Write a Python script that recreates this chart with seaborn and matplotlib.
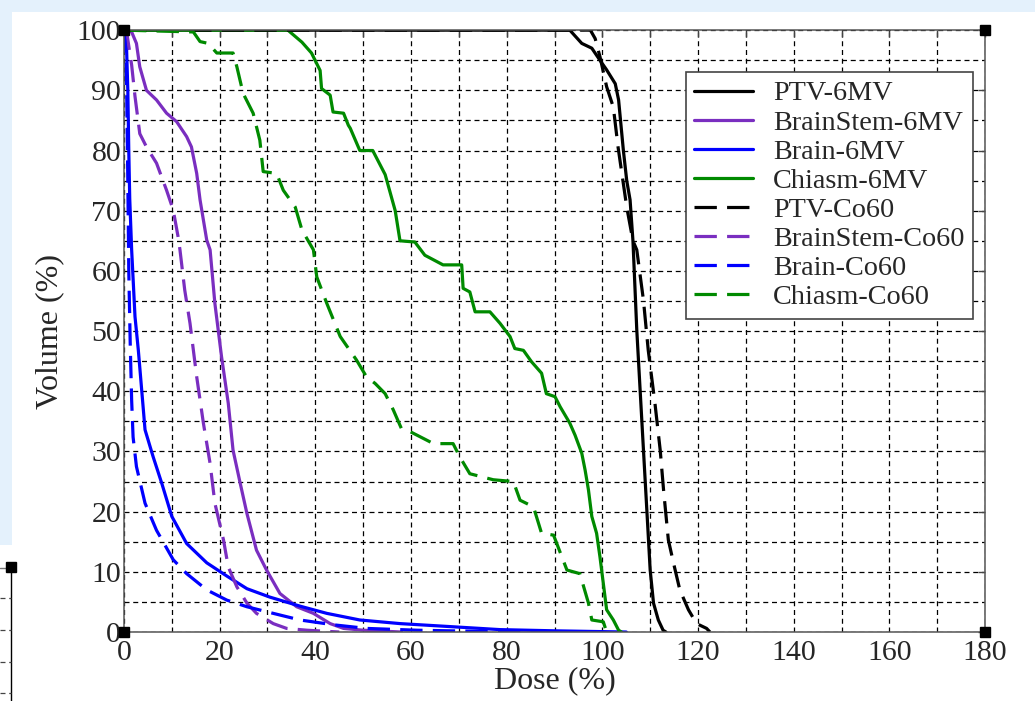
import matplotlib
matplotlib.use("Agg")
import matplotlib.pyplot as plt
from matplotlib.patches import Rectangle
from matplotlib.lines import Line2D
import seaborn as sns

# DVH curves (dose %, volume %)
ptv_6mv_dose = [0, 93.2, 95.7, 97.8, 99.5, 100.9, 102.7, 103.4, 104.4, 105.1, 105.8, 106.4,
                107.2, 107.9, 108.6, 109.3, 110.0, 110.7, 111.7, 112.7, 113.3]
ptv_6mv_vol = [100, 100, 97.8, 97, 95, 93.4, 91.1, 88.4, 80, 75, 71.8, 65,
               50.2, 40.2, 30.2, 20.3, 10.3, 4.8, 2, 0.3, 0]

brainstem_6mv_dose = [0, 1.0, 1.6, 2.6, 3.3, 4.7, 6.8, 8.9, 11.0, 13.1, 14.1, 15.2, 15.9, 17.3,
                      18.0, 19.0, 20.4, 21.8, 22.8, 24.3, 25.7, 27.7, 29.8, 32.6, 36.1, 39.6,
                      43.1, 45.9, 50.0, 58.0]
brainstem_6mv_vol = [100, 100, 99.7, 97.8, 93.9, 90, 88.4, 86.2, 84.8, 82.3, 80.6, 76.2, 71.8, 65.1,
                     63.5, 54.6, 45.7, 38, 30.2, 24.7, 19.7, 13.6, 10.3, 6.4, 4.2, 3.1,
                     1.4, 0.6, 0.3, 0]

brain_6mv_dose = [0, 0.5, 0.8, 1.0, 1.2, 1.6, 2.3, 3.0, 3.7, 4.4, 6.1, 7.9, 10.0, 13.1, 17.3,
                  21.5, 25.7, 30.5, 36.8, 42.4, 49.3, 57.7, 68.2, 78.6, 90, 105]
brain_6mv_vol = [100, 98, 90, 80, 72, 63.5, 52.4, 46.8, 40.2, 33.6, 29.1, 24.7, 19.2, 14.7, 11.5,
                 9.3, 7.2, 5.8, 4.3, 3.1, 2.0, 1.4, 0.9, 0.4, 0.2, 0]

chiasm_6mv_dose = [0, 34.3, 34.7, 37.2, 39.2, 41.0, 41.3, 43.1, 43.7, 45.9, 46.9, 47.3, 49.3, 52.0,
                   54.6, 56.7, 57.7, 60.8, 62.9, 66.7, 70.6, 70.9, 72.3, 73.4, 76.5, 78.6, 80.7,
                   81.7, 83.5, 85.2, 87.3, 88.3, 90.1, 91.2, 93.2, 94.3, 95.7, 96.4, 97.1, 97.8,
                   98.8, 99.5, 100.2, 100.9, 102.3, 103.4, 104.0]
chiasm_6mv_vol = [100, 100, 99.7, 98, 96.2, 93.3, 90.3, 89.2, 86.4, 86.2, 84.2, 83.7, 80, 80,
                  76, 70, 65, 64.8, 62.6, 61, 61, 57.1, 56.5, 53.2, 53.2, 51.3, 49.1,
                  47.1, 46.8, 44.9, 43, 39.6, 39.1, 37.4, 34.7, 32.7, 29.7, 26.9, 23.6, 19.2,
                  16.4, 12.5, 8.1, 3.7, 2, 0.3, 0]

ptv_co60_dose = [0, 97.5, 98.5, 99.5, 100.9, 102.3, 103.3, 105.1, 106.4, 107.2, 108.6, 109.6,
                 111.0, 112.1, 112.8, 113.8, 114.9, 116.2, 118.0, 119.7, 121.8, 122.5]
ptv_co60_vol = [100, 100, 98.6, 95.6, 90.6, 87.2, 80.5, 70.6, 65, 63.5, 55.1, 46.8,
                38, 30.2, 23.6, 15.3, 11.4, 7, 3.7, 1.4, 0.6, 0]

brainstem_co60_dose = [0, 0.5, 1.6, 2.3, 3.3, 4.7, 6.8, 8.9, 10.3, 11.3, 11.7, 12.7, 13.8, 15.2,
                       16.6, 18.0, 19.0, 20.8, 21.8, 23.6, 25.7, 27.7, 31.2, 34.0, 38.2, 45.0]
brainstem_co60_vol = [100, 100, 94.2, 89, 82.8, 80.6, 77.9, 73.4, 70.1, 65.7, 63.5, 56.8, 51.3, 42.4,
                      34.7, 28, 21.4, 15.3, 10.8, 7.5, 4.8, 3.1, 1.4, 0.6, 0.3, 0]

brain_co60_dose = [0, 0.3, 0.6, 0.8, 1.0, 1.3, 1.6, 1.9, 2.6, 4.4, 6.8, 10.3, 13.1, 17.3, 21.5,
                   25.7, 31.2, 36.8, 43.8, 50.7, 61.2, 75, 95]
brain_co60_vol = [100, 97, 88, 75, 60, 48, 38.5, 32.4, 27.5, 21.4, 16.9, 12, 9.7, 7, 5.3,
                  4.2, 3.1, 2.0, 1.2, 0.6, 0.3, 0.1, 0]

chiasm_co60_dose = [0, 14.5, 15.9, 17.6, 19.4, 22.8, 23.6, 24.9, 27.0, 28.4, 29.1, 31.9, 33.3, 35.8,
                    37.2, 39.6, 40.3, 42.4, 45.2, 48.6, 50.7, 52.5, 54.6, 56.3, 58.0, 59.8, 64.7,
                    68.8, 70.2, 72.3, 77.2, 78.6, 81.4, 82.8, 85.6, 87.3, 89.8, 92.6, 95.3, 97.1,
                    97.8, 100.2, 100.9]
chiasm_co60_vol = [100, 99.7, 98.1, 97.8, 96.2, 96.2, 93.9, 89.5, 86.2, 81.7, 76.5, 76.2, 73.4, 70.6,
                   66.8, 63.5, 59, 54.6, 49.1, 45.2, 42.4, 41.3, 39.6, 36.9, 33.8, 33.3, 31.3,
                   31.3, 29.1, 26.3, 25.3, 25.2, 25.0, 21.9, 20.8, 16.4, 16.1, 10.3, 9.7, 4.8,
                   2.0, 1.7, 0]

x_ticks = list(range(0, 181, 20))
y_ticks = list(range(0, 101, 10))

purple = "#7a2ec0"
blue = "#0000ff"
green = "#008a00"
solid = "-"
dashed = (0, (7, 3.2))

series = [
    ("PTV-6MV", ptv_6mv_dose, ptv_6mv_vol, "black", solid),
    ("BrainStem-6MV", brainstem_6mv_dose, brainstem_6mv_vol, purple, solid),
    ("Brain-6MV", brain_6mv_dose, brain_6mv_vol, blue, solid),
    ("Chiasm-6MV", chiasm_6mv_dose, chiasm_6mv_vol, green, solid),
    ("PTV-Co60", ptv_co60_dose, ptv_co60_vol, "black", dashed),
    ("BrainStem-Co60", brainstem_co60_dose, brainstem_co60_vol, purple, dashed),
    ("Brain-Co60", brain_co60_dose, brain_co60_vol, blue, dashed),
    ("Chiasm-Co60", chiasm_co60_dose, chiasm_co60_vol, green, dashed),
]

sns.set_theme(style="white")
plt.rcParams["font.family"] = ["Liberation Serif", "DejaVu Serif"]

fig, ax = plt.subplots(figsize=(10.35, 7.01), dpi=100)
fig.subplots_adjust(left=0.1198, right=0.9517, bottom=0.0984, top=0.957)

# light blue page background around the figure
fig.patch.set_facecolor("#e4f1fc")
fig.add_artist(Rectangle((0.0116, 0), 1, 0.983, transform=fig.transFigure,
                         facecolor="white", edgecolor="none", zorder=-10))
fig.add_artist(Rectangle((0, 0), 0.0116, 0.222, transform=fig.transFigure,
                         facecolor="white", edgecolor="none", zorder=-10))
# corner of a neighbouring plot, bottom left
fig.add_artist(Line2D([0.0106, 0.0106], [0, 0.192], transform=fig.transFigure, color="black", lw=1))
fig.add_artist(Line2D([0, 0.0106], [0.190, 0.190], transform=fig.transFigure, color="#777", lw=1))
for yy in [0.147, 0.101, 0.056, 0.011]:
    fig.add_artist(Line2D([0, 0.0106], [yy, yy], transform=fig.transFigure, color="#444",
                          lw=0.9, linestyle=(0, (4, 3))))
fig.add_artist(Line2D([0.0106], [0.191], transform=fig.transFigure, marker="s", ms=7,
                      color="black", ls="none"))

for name, dose, vol, color, ls in series:
    sns.lineplot(x=dose, y=vol, ax=ax, color=color, linestyle=ls, linewidth=2.3,
                 sort=False, estimator=None, label=name)

ax.set_xlim(0, 180)
ax.set_ylim(0, 100)
ax.set_xticks(x_ticks)
ax.set_xticks(list(range(0, 181, 10)), minor=True)
ax.set_yticks(y_ticks)
ax.set_yticks(list(range(0, 101, 5)), minor=True)
ax.grid(which="both", color="black", linestyle=(0, (4, 3)), linewidth=0.9)
ax.set_axisbelow(True)
ax.tick_params(which="both", direction="in", top=True, right=True, length=5, width=1,
               color="#444", labelsize=21.5, pad=2)
ax.tick_params(axis="x", which="major", pad=6)
ax.tick_params(axis="y", which="minor", length=0)
for sp in ax.spines.values():
    sp.set_color("#555")
    sp.set_linewidth(1.1)

ax.set_xlabel("Dose (%)", fontsize=23, labelpad=0)
ax.set_ylabel("Volume (%)", fontsize=23, labelpad=9)

# little black squares at the frame corners
ax.plot([0, 1, 0, 1], [0, 0, 1, 1], ls="none", marker="s", ms=7, color="black",
        transform=ax.transAxes, clip_on=False, zorder=6)

leg = ax.legend(loc="upper right", bbox_to_anchor=(0.986, 0.930), borderaxespad=0,
                fontsize=20.3, handlelength=2.1, handletextpad=0.7, labelspacing=0.12,
                frameon=True, fancybox=False, edgecolor="#444", framealpha=1, borderpad=0.3)
leg.get_frame().set_linewidth(1.2)

fig.savefig("out.png", dpi=100)
